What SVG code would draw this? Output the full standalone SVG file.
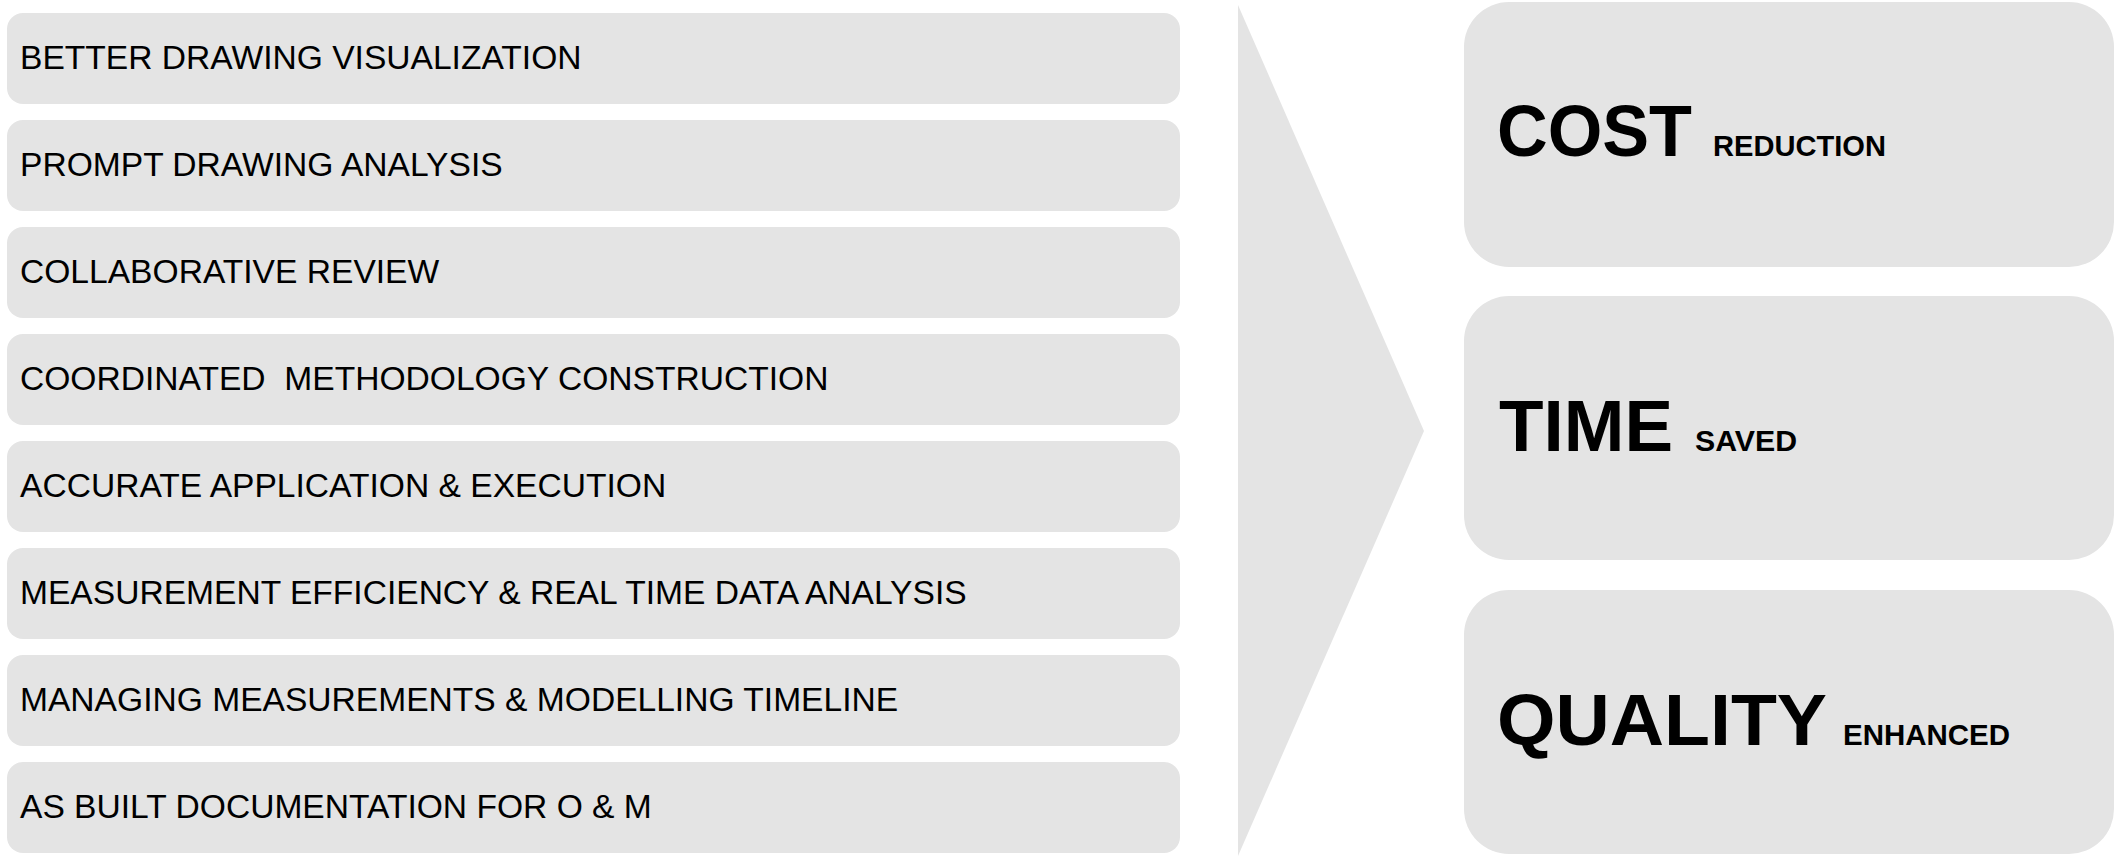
<svg xmlns="http://www.w3.org/2000/svg" width="2116" height="857" viewBox="0 0 2116 857">
<style>
.box{fill:#e4e4e4}
.lt{font-family:"Liberation Sans",Arial,sans-serif;font-size:33.6px;fill:#000;white-space:pre}
.big{font-family:"Liberation Sans",Arial,sans-serif;font-weight:bold;font-size:73px;fill:#000}
.sm{font-family:"Liberation Sans",Arial,sans-serif;font-weight:bold;font-size:30px;fill:#000}
</style>
<rect width="2116" height="857" fill="#fff"/>
<g id="item1"><rect class="box" x="7" y="13" width="1173" height="91" rx="16"/><text class="lt" x="20" y="69">BETTER DRAWING VISUALIZATION</text></g>
<g id="item2"><rect class="box" x="7" y="120" width="1173" height="91" rx="16"/><text class="lt" x="20" y="176">PROMPT DRAWING ANALYSIS</text></g>
<g id="item3"><rect class="box" x="7" y="227" width="1173" height="91" rx="16"/><text class="lt" x="20" y="283">COLLABORATIVE REVIEW</text></g>
<g id="item4"><rect class="box" x="7" y="334" width="1173" height="91" rx="16"/><text class="lt" x="20" y="390" xml:space="preserve">COORDINATED  METHODOLOGY CONSTRUCTION</text></g>
<g id="item5"><rect class="box" x="7" y="441" width="1173" height="91" rx="16"/><text class="lt" x="20" y="497">ACCURATE APPLICATION &amp; EXECUTION</text></g>
<g id="item6"><rect class="box" x="7" y="548" width="1173" height="91" rx="16"/><text class="lt" x="20" y="604">MEASUREMENT EFFICIENCY &amp; REAL TIME DATA ANALYSIS</text></g>
<g id="item7"><rect class="box" x="7" y="655" width="1173" height="91" rx="16"/><text class="lt" x="20" y="711">MANAGING MEASUREMENTS &amp; MODELLING TIMELINE</text></g>
<g id="item8"><rect class="box" x="7" y="762" width="1173" height="91" rx="16"/><text class="lt" x="20" y="818">AS BUILT DOCUMENTATION FOR O &amp; M</text></g>
<g id="connectors"><polygon class="box" points="1238,5 1424,431 1238,856"/></g>
<g id="cost"><rect class="box" x="1464" y="2" width="650" height="265" rx="45"/><text class="big" x="1497" y="156" textLength="195" lengthAdjust="spacingAndGlyphs">COST</text><text class="sm" x="1713" y="156" textLength="173" lengthAdjust="spacingAndGlyphs">REDUCTION</text></g>
<g id="time"><rect class="box" x="1464" y="296" width="650" height="264" rx="45"/><text class="big" x="1499" y="451" textLength="174" lengthAdjust="spacingAndGlyphs">TIME</text><text class="sm" x="1695" y="451" textLength="102" lengthAdjust="spacingAndGlyphs">SAVED</text></g>
<g id="quality"><rect class="box" x="1464" y="590" width="650" height="264" rx="45"/><text class="big" x="1497" y="745" font-size="74" textLength="330" lengthAdjust="spacingAndGlyphs">QUALITY</text><text class="sm" x="1843" y="745" textLength="167" lengthAdjust="spacingAndGlyphs">ENHANCED</text></g>
</svg>
